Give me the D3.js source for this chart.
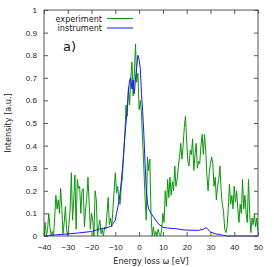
<!DOCTYPE html>
<html>
<head>
<meta charset="utf-8">
<script src="https://cdn.jsdelivr.net/npm/d3@7"></script>
<style>
  body { margin: 0; background: #fff; }
  svg { display: block; font-family: "DejaVu Sans", sans-serif; }
</style>
</head>
<body>
<svg id="chart" width="274" height="267"></svg>
<script>
// experiment: energy loss grid (eV) and measured intensity
const exp_start = -40, exp_step = 0.5
const exp_values = [
  0.0, 0.06, 0.0, 0.03, 0.10, 0.04, 0.0, 0.02, 0.0, 0.08,
  0.18, 0.12, 0.16, 0.10, 0.21, 0.12, 0.01, 0.06, 0.13, 0.03,
  0.0, 0.05, 0.12, 0.28, 0.07, 0.16, 0.27, 0.03, 0.25, 0.21,
  0.22, 0.10, 0.20, 0.21, 0.04, 0.12, 0.17, 0.26, 0.14, 0.03,
  0.10, 0.07, 0.0, 0.20, 0.16, 0.0, 0.04, 0.07, 0.01, 0.03,
  0.0, 0.04, 0.03, 0.10, 0.17, 0.05, 0.08, 0.04, 0.12, 0.20,
  0.28, 0.19, 0.22, 0.15, 0.14, 0.22, 0.26, 0.37, 0.45, 0.58,
  0.53, 0.66, 0.58, 0.70, 0.77, 0.62, 0.72, 0.85, 0.68, 0.72,
  0.56, 0.60, 0.54, 0.42, 0.30, 0.17, 0.07, 0.35, 0.29, 0.34,
  0.10, 0.0, 0.04, 0.0, 0.02, 0.0, 0.03, 0.01, 0.0, 0.03,
  0.10, 0.06, 0.20, 0.13, 0.25, 0.17, 0.26, 0.18, 0.24, 0.20,
  0.31, 0.22, 0.25, 0.31, 0.35, 0.41, 0.34, 0.40, 0.48, 0.53,
  0.42, 0.33, 0.31, 0.38, 0.36, 0.43, 0.29, 0.36, 0.41, 0.30,
  0.33, 0.32, 0.40, 0.45, 0.36, 0.45, 0.38, 0.27, 0.20, 0.28,
  0.32, 0.35, 0.32, 0.22, 0.26, 0.16, 0.22, 0.25, 0.31, 0.20,
  0.14, 0.11, 0.03, 0.015, 0.04, 0.12, 0.23, 0.14, 0.18, 0.12,
  0.22, 0.15, 0.20, 0.12, 0.06, 0.14, 0.10, 0.25, 0.12, 0.18,
  0.10, 0.06, 0.25, 0.10, 0.015, 0.08, 0.05, 0.10, 0.04, 0.08,
  0.02
]

// instrument response
const inst_x = [-40, -35, -30, -25, -20, -17, -14, -12, -11, -10,
  -9.5, -9, -8.5, -8, -7.5, -7, -6.5, -6, -5.5, -5,
  -4.5, -4, -3.5, -3, -2.5, -2, -1.5, -1, -0.5, 0,
  0.5, 1, 1.5, 2, 2.5, 3, 3.5, 4, 5, 6,
  7, 8, 10, 12, 15, 18, 20, 25, 27, 28,
  28.5, 29, 30, 32, 35, 37, 50]
const inst_y = [0, 0.005, 0.009, 0.014, 0.02, 0.03, 0.036, 0.042, 0.055, 0.07,
  0.10, 0.125, 0.15, 0.19, 0.24, 0.30, 0.36, 0.44, 0.50, 0.56,
  0.64, 0.69, 0.70, 0.65, 0.69, 0.63, 0.70, 0.75, 0.80, 0.78,
  0.74, 0.63, 0.55, 0.45, 0.32, 0.21, 0.15, 0.12, 0.10, 0.085,
  0.07, 0.055, 0.038, 0.035, 0.033, 0.028, 0.026, 0.025, 0.03, 0.036,
  0.035, 0.028, 0.018, 0.01, 0.004, 0, 0]

const x_ticks = [-40, -30, -20, -10, 0, 10, 20, 30, 40, 50]
const y_ticks = [0, 0.1, 0.2, 0.3, 0.4, 0.5, 0.6, 0.7, 0.8, 0.9, 1]
const series_names = ['experiment', 'instrument']
const series_colors = ['#0a960a', '#1a1aee']

const experiment = exp_values.map((v, i) => ({ e: exp_start + i * exp_step, v: v }))
const instrument = inst_x.map((e, i) => ({ e: e, v: inst_y[i] }))

const svg = d3.select('#chart')
const margin = ({ top: 10, right: 16, bottom: 31, left: 44 })
const width = 274, height = 267
const font_size = 8.1

const x = d3.scaleLinear()
    .domain([-40, 50])
    .range([margin.left, width - margin.right])
const y = d3.scaleLinear()
    .domain([0, 1])
    .range([height - margin.bottom, margin.top])

const frame_color = '#555'
const tick_len = 4

const axisStyle = g => {
    g.select('.domain').remove()
    g.selectAll('.tick line').attr('stroke', frame_color)
    g.selectAll('.tick text').attr('fill', '#222').attr('font-size', font_size)
}

// bottom / top axes (ticks point inward)
svg.append('g')
    .attr('transform', `translate(0,${y(0)})`)
    .call(d3.axisBottom(x).tickValues(x_ticks).tickSize(-tick_len).tickPadding(8).tickFormat(d3.format('d')))
    .call(axisStyle)
svg.append('g')
    .attr('transform', `translate(0,${y(1)})`)
    .call(d3.axisTop(x).tickValues(x_ticks).tickSize(-tick_len).tickFormat(''))
    .call(axisStyle)
svg.append('g')
    .attr('transform', `translate(${x(-40)},0)`)
    .call(d3.axisLeft(y).tickValues(y_ticks).tickSize(-tick_len).tickPadding(7).tickFormat(d => d === 0 || d === 1 ? d3.format('d')(d) : d3.format('.1f')(d)))
    .call(axisStyle)
svg.append('g')
    .attr('transform', `translate(${x(50)},0)`)
    .call(d3.axisRight(y).tickValues(y_ticks).tickSize(-tick_len).tickFormat(''))
    .call(axisStyle)

const line = d3.line()
    .x(d => x(d.e))
    .y(d => y(d.v))

svg.append('path')
    .datum(experiment)
    .attr('fill', 'none')
    .attr('stroke', series_colors[0])
    .attr('stroke-width', 1)
    .attr('stroke-linejoin', 'round')
    .attr('d', line)
svg.append('path')
    .datum(instrument)
    .attr('fill', 'none')
    .attr('stroke', series_colors[1])
    .attr('stroke-width', 1)
    .attr('stroke-linejoin', 'round')
    .attr('d', line)

// frame
svg.append('rect')
    .attr('x', x(-40))
    .attr('y', y(1))
    .attr('width', x(50) - x(-40))
    .attr('height', y(0) - y(1))
    .attr('fill', 'none')
    .attr('stroke', frame_color)
    .attr('stroke-width', 1)

// legend
const legend = svg.append('g')
series_names.forEach((name, i) => {
    const ly = 18.5 + i * 9.5
    legend.append('text')
        .attr('x', 102)
        .attr('y', ly + 3)
        .attr('text-anchor', 'end')
        .attr('font-size', font_size)
        .attr('fill', '#222')
        .text(name)
    legend.append('line')
        .attr('x1', 107).attr('x2', 133)
        .attr('y1', ly).attr('y2', ly)
        .attr('stroke', series_colors[i])
        .attr('stroke-width', 1)
})

svg.append('text')
    .attr('x', 63)
    .attr('y', 51)
    .attr('font-size', 13)
    .attr('fill', '#111')
    .text('a)')

// axis titles
svg.append('text')
    .attr('x', (x(-40) + x(50)) / 2)
    .attr('y', 264)
    .attr('text-anchor', 'middle')
    .attr('font-size', font_size)
    .attr('fill', '#222')
    .text('Energy loss ω [eV]')
svg.append('text')
    .attr('transform', `translate(11,${(y(0) + y(1)) / 2}) rotate(-90)`)
    .attr('text-anchor', 'middle')
    .attr('font-size', font_size)
    .attr('fill', '#222')
    .text('Intensity [a.u.]')
</script>
</body>
</html>
